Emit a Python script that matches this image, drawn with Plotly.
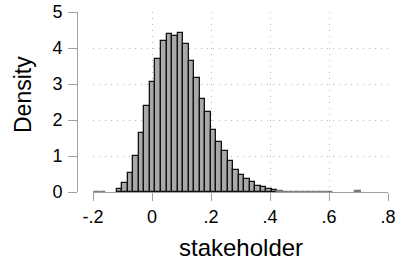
import plotly.graph_objects as go

# Histogram data (density per bin)
bin_start = -0.195
bin_width = 0.0188
density = [0.01, 0.01, 0.0, 0.0, 0.07, 0.25, 0.54, 0.99, 1.63, 2.39,
           3.06, 3.70, 4.19, 4.39, 4.34, 4.41, 4.12, 3.65, 3.18, 2.59,
           2.22, 1.73, 1.39, 1.13, 0.86, 0.61, 0.47, 0.35, 0.27, 0.18,
           0.13, 0.08, 0.055, 0.03, 0.006, 0.005, 0.012, 0.012, 0.012, 0.012,
           0.012, 0.012, 0.012, 0.0, 0.0, 0.0, 0.0, 0.02]

x_tickvals = [-0.2, 0, 0.2, 0.4, 0.6, 0.8]
x_ticktext = ["-.2", "0", ".2", ".4", ".6", ".8"]
y_tickvals = [0, 1, 2, 3, 4, 5]
x_title = "stakeholder"
y_title = "Density"

centers = [bin_start + (i + 0.5) * bin_width for i in range(len(density))]
heights = [d if d > 0 else None for d in density]
# very short bars render as grey slivers in the reference
line_colors = ["#111111" if d >= 0.04 else "#7a7a7a" for d in density]

FONT = "Liberation Sans, Arial, Helvetica, sans-serif"
AX = "#a0a0a0"
GRID = "#b8b8b8"

fig = go.Figure(go.Bar(
    x=centers, y=heights, width=bin_width,
    marker=dict(color="#a9a9a9", line=dict(color=line_colors, width=1.3)),
))

W, H = 396, 262
L, R, T, B = 77, 4, 12, 70
pw = W - L - R
ph = H - T - B
x0 = (93 - L) / pw
x1 = (388 - L) / pw

fig.update_layout(
    width=W, height=H,
    margin=dict(l=L, r=R, t=T, b=B),
    paper_bgcolor="white", plot_bgcolor="white",
    bargap=0, showlegend=False,
    font=dict(family=FONT, color="black"),
    xaxis=dict(
        domain=[x0, x1], range=[-0.2, 0.8], automargin=False,
        tickvals=x_tickvals, ticktext=x_ticktext,
        tickfont=dict(size=18), ticks="outside", ticklen=8, tickcolor=AX,
        showline=True, linecolor=AX, linewidth=1,
        showgrid=True, gridcolor=GRID, griddash="1px,5px", gridwidth=1,
        zeroline=False,
    ),
    yaxis=dict(
        anchor="free", position=0, range=[0, 5], automargin=False,
        tickvals=y_tickvals, tickfont=dict(size=18),
        ticks="outside", ticklen=9, tickcolor=AX, ticklabelstandoff=2,
        showline=True, linecolor=AX, linewidth=1,
        showgrid=True, gridcolor=GRID, griddash="1px,5px", gridwidth=1,
        zeroline=False,
    ),
    annotations=[
        dict(text=x_title, xref="paper", yref="paper",
             x=(x0 + x1) / 2, y=-(247 - T - ph) / ph,
             xanchor="center", yanchor="middle", showarrow=False,
             font=dict(size=24)),
        dict(text=y_title, xref="paper", yref="paper",
             x=-(L - 23) / pw, y=1 - (95 - T) / ph, textangle=-90,
             xanchor="center", yanchor="middle", showarrow=False,
             font=dict(size=23)),
    ],
)

fig.write_html(
    "out.html",
    config={"displayModeBar": False},
    post_script="document.body.style.margin='0';document.body.style.overflow='hidden';",
)
